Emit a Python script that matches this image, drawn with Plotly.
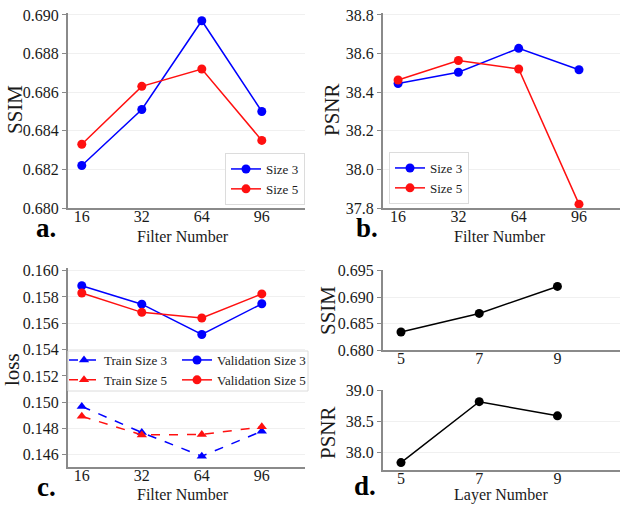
import plotly.graph_objects as go

# ── data ──────────────────────────────────────
filters = ["16", "32", "64", "96"]
ssim_size3 = [0.6822, 0.6851, 0.6897, 0.6850]
ssim_size5 = [0.6833, 0.6863, 0.6872, 0.6835]
psnr_size3 = [38.445, 38.503, 38.627, 38.516]
psnr_size5 = [38.463, 38.564, 38.520, 37.820]
train_size3 = [0.14968, 0.14770, 0.14590, 0.14780]
train_size5 = [0.14893, 0.14752, 0.14755, 0.14813]
val_size3 = [0.15885, 0.15745, 0.15515, 0.15748]
val_size5 = [0.15830, 0.15683, 0.15640, 0.15823]
layers = ["5", "7", "9"]
layer_ssim = [0.6834, 0.6869, 0.6920]
layer_psnr = [37.83, 38.82, 38.59]

BLUE = "#0000ff"
RED = "#ff1010"
FONT = "Liberation Serif"
INK = "#1a1a1a"
W, H = 630, 506


def px_x(x):
    return x / W


def px_y(y):
    return 1 - y / H


def yaxis(anchor, dom, rng, dtick, fmt):
    return dict(
        anchor=anchor, domain=dom, range=rng, dtick=dtick, tickformat=fmt,
        showline=True, linecolor="#8a8a8a", linewidth=2,
        ticks="outside", ticklen=4, tickcolor="#8a8a8a",
        showgrid=True, gridcolor="#f0f0f0", gridwidth=1, zeroline=False,
        tickfont=dict(family=FONT, size=16, color=INK), automargin=False,
    )


def xaxis(anchor, dom, rng):
    return dict(
        anchor=anchor, domain=dom, range=rng, type="category",
        showline=True, linecolor="#8a8a8a", linewidth=2,
        ticks="", showgrid=False, zeroline=False, automargin=False,
        ticklabelstandoff=-7,
        tickfont=dict(family=FONT, size=16, color=INK),
    )


def legend_box(x, y, xanchor, yanchor, border=True):
    return dict(x=x, y=y, xanchor=xanchor, yanchor=yanchor,
                bgcolor="white" if border else "rgba(0,0,0,0)",
                bordercolor="#dcdcdc", borderwidth=1 if border else 0,
                font=dict(family=FONT, size=13, color=INK), tracegroupgap=0)


fig = go.Figure()

# panel a
fig.add_trace(go.Scatter(x=filters, y=ssim_size3, name="Size 3", mode="lines+markers",
                         line=dict(color=BLUE, width=1.5), marker=dict(size=9),
                         xaxis="x", yaxis="y", legend="legend"))
fig.add_trace(go.Scatter(x=filters, y=ssim_size5, name="Size 5", mode="lines+markers",
                         line=dict(color=RED, width=1.5), marker=dict(size=9),
                         xaxis="x", yaxis="y", legend="legend"))
# panel b
fig.add_trace(go.Scatter(x=filters, y=psnr_size3, name="Size 3", mode="lines+markers",
                         line=dict(color=BLUE, width=1.5), marker=dict(size=9),
                         xaxis="x2", yaxis="y2", legend="legend2"))
fig.add_trace(go.Scatter(x=filters, y=psnr_size5, name="Size 5", mode="lines+markers",
                         line=dict(color=RED, width=1.5), marker=dict(size=9),
                         xaxis="x2", yaxis="y2", legend="legend2"))
# panel c
fig.add_trace(go.Scatter(x=filters, y=train_size3, name="Train Size 3", mode="lines+markers",
                         line=dict(color=BLUE, width=1.5, dash="dash"), marker=dict(size=9, symbol="triangle-up"),
                         xaxis="x3", yaxis="y3", legend="legend3"))
fig.add_trace(go.Scatter(x=filters, y=train_size5, name="Train Size 5", mode="lines+markers",
                         line=dict(color=RED, width=1.5, dash="dash"), marker=dict(size=9, symbol="triangle-up"),
                         xaxis="x3", yaxis="y3", legend="legend3"))
fig.add_trace(go.Scatter(x=filters, y=val_size3, name="Validation Size 3", mode="lines+markers",
                         line=dict(color=BLUE, width=1.5), marker=dict(size=9),
                         xaxis="x3", yaxis="y3", legend="legend4"))
fig.add_trace(go.Scatter(x=filters, y=val_size5, name="Validation Size 5", mode="lines+markers",
                         line=dict(color=RED, width=1.5), marker=dict(size=9),
                         xaxis="x3", yaxis="y3", legend="legend4"))
# panel d
fig.add_trace(go.Scatter(x=layers, y=layer_ssim, mode="lines+markers", showlegend=False,
                         line=dict(color="black", width=1.5), marker=dict(size=9),
                         xaxis="x4", yaxis="y4"))
fig.add_trace(go.Scatter(x=layers, y=layer_psnr, mode="lines+markers", showlegend=False,
                         line=dict(color="black", width=1.5), marker=dict(size=9),
                         xaxis="x5", yaxis="y5"))

left_dom = [px_x(68), px_x(305)]
right_dom = [px_x(383), px_x(620)]

fig.update_layout(
    width=W, height=H,
    margin=dict(l=0, r=0, t=0, b=0),
    paper_bgcolor="white", plot_bgcolor="white",
    font=dict(family=FONT, size=16, color=INK),
    xaxis=xaxis("y", left_dom, [-0.23, 3.72]),
    yaxis=yaxis("x", [px_y(208), px_y(13)], [0.680, 0.6901], 0.002, ".3f"),
    xaxis2=xaxis("y2", right_dom, [-0.25, 3.68]),
    yaxis2=yaxis("x2", [px_y(208), px_y(13)], [37.8, 38.81], 0.2, ".1f"),
    xaxis3=xaxis("y3", left_dom, [-0.23, 3.72]),
    yaxis3=yaxis("x3", [px_y(467), px_y(268)], [0.14508, 0.1602], 0.002, ".3f"),
    xaxis4=xaxis("y4", right_dom, [-0.23, 2.8]),
    yaxis4=yaxis("x4", [px_y(350), px_y(270)], [0.680, 0.6951], 0.005, ".3f"),
    xaxis5=xaxis("y5", right_dom, [-0.23, 2.8]),
    yaxis5=yaxis("x5", [px_y(470), px_y(390)], [37.71, 39.01], 0.5, ".1f"),
    legend=legend_box(px_x(305), px_y(205), "right", "bottom"),
    legend2=legend_box(px_x(389), px_y(204), "left", "bottom"),
    legend3=legend_box(px_x(64), px_y(345), "left", "top", border=False),
    legend4=legend_box(px_x(177), px_y(345), "left", "top", border=False),
)

# white box with grey frame behind the two-column loss legend
fig.add_shape(type="rect", xref="paper", yref="paper", layer="above",
              x0=px_x(68), x1=px_x(308), y0=px_y(391), y1=px_y(351),
              fillcolor="white", line=dict(color="#dcdcdc", width=1))

# axis titles, x labels and panel letters
titles = [("SSIM", 15, 110), ("PSNR", 332, 110), ("loss", 12, 370),
          ("SSIM", 328, 311), ("PSNR", 328, 433)]
for text, x, y in titles:
    fig.add_annotation(text=text, x=px_x(x), y=px_y(y), xref="paper", yref="paper",
                       xanchor="center", yanchor="middle",
                       showarrow=False, textangle=-90,
                       font=dict(family=FONT, size=21, color=INK))

xlabels = [("Filter Number", 183, 236), ("Filter Number", 500, 236),
           ("Filter Number", 183, 494), ("Layer Number", 501, 495)]
for text, x, y in xlabels:
    fig.add_annotation(text=text, x=px_x(x), y=px_y(y), xref="paper", yref="paper",
                       xanchor="center", yanchor="middle", showarrow=False,
                       font=dict(family=FONT, size=16, color=INK))

letters = [("a.", 46, 228), ("b.", 367, 228), ("c.", 46, 487), ("d.", 365, 486)]
for text, x, y in letters:
    fig.add_annotation(text=f"<b>{text}</b>", x=px_x(x), y=px_y(y), xref="paper", yref="paper",
                       xanchor="center", yanchor="middle",
                       showarrow=False, font=dict(family=FONT, size=27, color="black"))

fig.write_html("out.html", config=dict(displayModeBar=False),
               post_script="document.body.style.margin = '0';")
